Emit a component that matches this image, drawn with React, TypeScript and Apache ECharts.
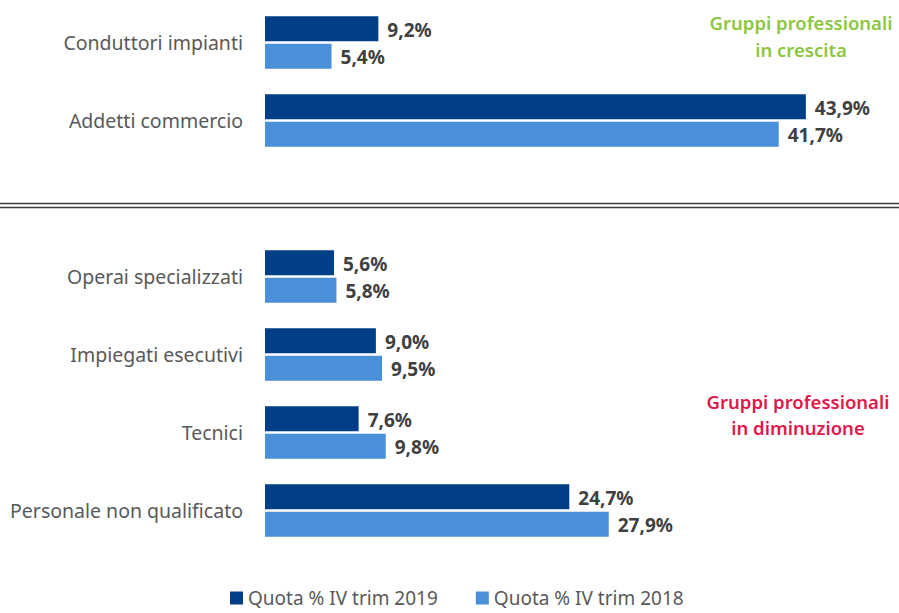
import React, { useEffect, useRef } from "react";
import * as echarts from "echarts";

const categories = [
  "Conduttori impianti",
  "Addetti commercio",
  "",
  "Operai specializzati",
  "Impiegati esecutivi",
  "Tecnici",
  "Personale non qualificato",
];
const seriesNames = ["Quota % IV trim 2019", "Quota % IV trim 2018"];
const values2019: (number | null)[] = [9.2, 43.9, null, 5.6, 9.0, 7.6, 24.7];
const values2018: (number | null)[] = [5.4, 41.7, null, 5.8, 9.5, 9.8, 27.9];
const noteUp = ["Gruppi professionali", "in crescita"];
const noteDown = ["Gruppi professionali", "in diminuzione"];

const FONT = "'Noto Sans', sans-serif";
const fmt = (v: number) => v.toFixed(1).replace(".", ",") + "%";

export default function App() {
  const ref = useRef<HTMLDivElement>(null);
  useEffect(() => {
    if (!ref.current) return;
    const chart = echarts.init(ref.current, undefined, { renderer: "svg" });
    const label = {
      show: true,
      position: "right" as const,
      distance: 9,
      offset: [0, 1],
      color: "#404040",
      fontSize: 19,
      fontWeight: "bold" as const,
      fontFamily: FONT,
      formatter: (p: any) => fmt(p.value),
    };
    chart.setOption({
      animation: false,
      textStyle: { fontFamily: FONT },
      grid: { left: 265, right: 18, top: 3.5, height: 546, containLabel: false },
      xAxis: { type: "value", min: 0, max: 50, show: false },
      yAxis: {
        type: "category",
        data: categories,
        inverse: true,
        axisLine: { show: false },
        axisTick: { show: false },
        axisLabel: { color: "#595959", fontSize: 19.5, margin: 22, fontFamily: FONT },
      },
      legend: {
        left: 230,
        top: 588,
        padding: 0,
        itemWidth: 13,
        itemHeight: 13,
        itemGap: 38,
        icon: "rect",
        textStyle: { color: "#595959", fontSize: 19, lineHeight: 20, fontFamily: FONT },
        data: seriesNames,
      },
      series: [
        {
          name: seriesNames[0],
          type: "bar",
          data: values2019,
          barWidth: 25,
          barGap: "10%",
          itemStyle: { color: "#003f87" },
          label,
        },
        {
          name: seriesNames[1],
          type: "bar",
          data: values2018,
          barWidth: 25,
          itemStyle: { color: "#4a90d9" },
          label,
        },
      ],
      graphic: [
        { type: "line", shape: { x1: 0, y1: 203.5, x2: 899, y2: 203.5 }, style: { stroke: "#3a3a3a", lineWidth: 1.5 } },
        { type: "line", shape: { x1: 0, y1: 207.5, x2: 899, y2: 207.5 }, style: { stroke: "#3a3a3a", lineWidth: 1.5 } },
        {
          type: "text",
          x: 801,
          y: 9,
          style: {
            text: noteUp.join("\n"),
            fill: "#8dc63f",
            fontSize: 18.5,
            fontWeight: 600,
            fontFamily: FONT,
            align: "center",
            lineHeight: 27,
          },
        },
        {
          type: "text",
          x: 798,
          y: 388,
          style: {
            text: noteDown.join("\n"),
            fill: "#e0194b",
            fontSize: 18.5,
            fontWeight: 600,
            fontFamily: FONT,
            align: "center",
            lineHeight: 26,
          },
        },
      ],
    });
    return () => chart.dispose();
  }, []);
  return <div ref={ref} style={{ width: 899, height: 613, position: "absolute", left: 0, top: 0 }} />;
}
